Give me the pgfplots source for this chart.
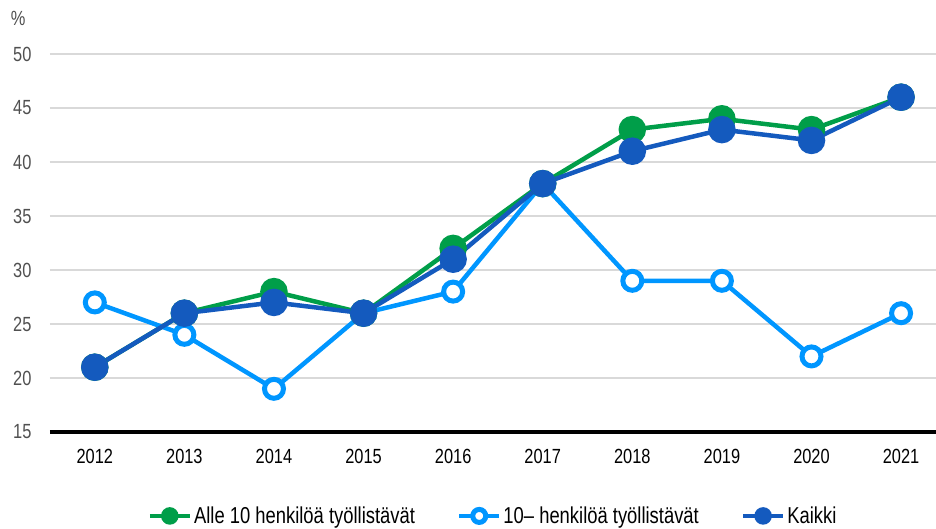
\documentclass[border=0pt]{standalone}
\usepackage{fontspec}
\setmainfont[FakeStretch=0.8]{Liberation Sans}
\usepackage{pgfplots}
\pgfplotsset{compat=1.18}
\definecolor{cgreen}{RGB}{0,158,73}
\definecolor{clight}{RGB}{0,150,255}
\definecolor{cdark}{RGB}{20,90,190}
\definecolor{cgrid}{RGB}{217,217,217}
\definecolor{ctick}{RGB}{80,80,80}
\begin{document}
\begin{tikzpicture}
\useasboundingbox (-50pt,-96pt) rectangle (886pt,432pt);
\begin{axis}[
  scale only axis, width=886pt, height=378pt,
  xmin=2011.5, xmax=2021.39, ymin=15, ymax=50,
  clip=false,
  axis lines=left,
  axis line style={-},
  y axis line style={draw=none},
  x axis line style={line width=3.5pt, black},
  major tick length=0pt,
  ymajorgrids,
  grid style={cgrid, line width=1.5pt},
  xtick={2012,2013,2014,2015,2016,2017,2018,2019,2020,2021},
  xticklabels={2012,2013,2014,2015,2016,2017,2018,2019,2020,2021},
  ytick={15,20,25,30,35,40,45,50},
  yticklabels={15,20,25,30,35,40,45,50},
  tick label style={font=\fontsize{20.5pt}{24pt}\selectfont},
  yticklabel style={text=ctick, anchor=east, xshift=-15pt},
  xticklabel style={text=black, yshift=-14pt},
  legend columns=3,
  legend style={draw=none, at={(0.5,-0.222)}, anchor=center,
    font=\fontsize{23pt}{26pt}\selectfont,
    /tikz/every even column/.append style={column sep=40pt},
    inner sep=0pt},
  legend image code/.code={\draw[mark repeat=2,mark phase=2,#1, mark size=6.5pt] plot coordinates {(0pt,0pt) (20pt,0pt) (40pt,0pt)};},
]
\addplot[cgreen, line width=4.5pt, mark=*, mark size=11.5pt, mark options={solid}] coordinates {
(2012,21) (2013,26) (2014,28) (2015,26) (2016,32) (2017,38) (2018,43) (2019,44) (2020,43) (2021,46)};
\addlegendentry{Alle 10 henkilöä työllistävät}
\addplot[clight, line width=4.5pt, mark=*, mark size=9.5pt, mark options={solid, fill=white, line width=5pt}] coordinates {
(2012,27) (2013,24) (2014,19) (2015,26) (2016,28) (2017,38) (2018,29) (2019,29) (2020,22) (2021,26)};
\addlegendentry{10– henkilöä työllistävät}
\addplot[cdark, line width=4.5pt, mark=*, mark size=11.5pt, mark options={solid}] coordinates {
(2012,21) (2013,26) (2014,27) (2015,26) (2016,31) (2017,38) (2018,41) (2019,43) (2020,42) (2021,46)};
\addlegendentry{Kaikki}
\node[text=ctick, font=\fontsize{20.5pt}{24pt}\selectfont] at (axis description cs:-0.036,1.095) {\%};
\end{axis}
\end{tikzpicture}
\end{document}
